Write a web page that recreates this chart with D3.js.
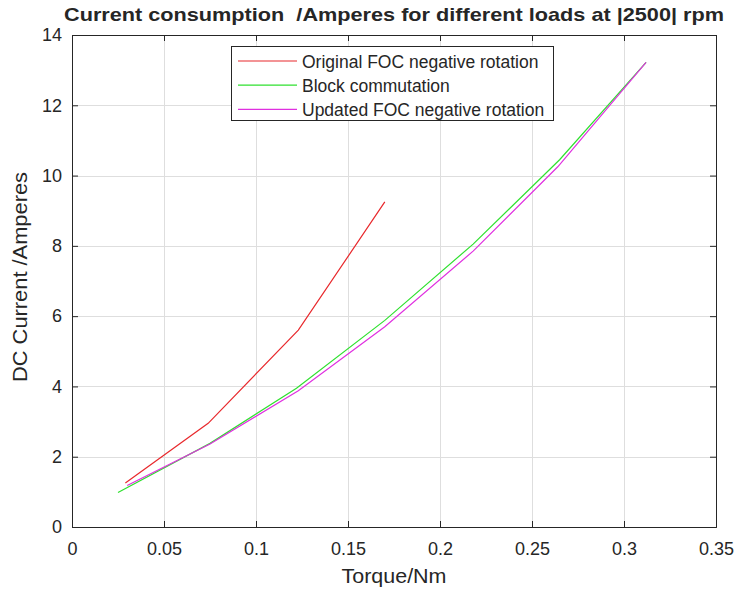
<!DOCTYPE html>
<html>
<head>
<meta charset="utf-8">
<script src="https://cdn.jsdelivr.net/npm/d3@7"></script>
<style>
  html, body { margin: 0; padding: 0; background: #ffffff; }
  svg text { font-family: "Liberation Sans", Arial, Helvetica, sans-serif; fill: #262626; }
</style>
</head>
<body>
<svg id="chart" width="740" height="592"></svg>
<script>
// Measured DC current (A) against load torque (Nm) at |2500| rpm
const originalTorque = [0.029, 0.074, 0.123, 0.170];
const originalCurrent = [1.25, 2.95, 5.60, 9.25];

const blockTorque = [0.025, 0.075, 0.122, 0.170, 0.218, 0.265, 0.312];
const blockCurrent = [0.98, 2.38, 3.95, 5.88, 8.05, 10.45, 13.22];

const updatedTorque = [0.030, 0.075, 0.123, 0.170, 0.218, 0.264, 0.312];
const updatedCurrent = [1.18, 2.36, 3.88, 5.70, 7.85, 10.25, 13.22];

const seriesNames = ["Original FOC negative rotation", "Block commutation", "Updated FOC negative rotation"];
const seriesColors = ["#e8282c", "#2fe02f", "#e030e0"];

const xTicks = [0, 0.05, 0.1, 0.15, 0.2, 0.25, 0.3, 0.35];
const yTicks = [0, 2, 4, 6, 8, 10, 12, 14];

const titleText = "Current consumption  /Amperes for different loads at |2500| rpm";
const xLabel = "Torque/Nm";
const yLabel = "DC Current /Amperes";

const svg = d3.select("#chart");
const plotLeft = 72, plotRight = 716, plotTop = 35, plotBottom = 527;

const x = d3.scaleLinear().domain([0, 0.35]).range([plotLeft, plotRight]);
const y = d3.scaleLinear().domain([0, 14]).range([plotBottom, plotTop]);

// grid
const grid = svg.append("g").attr("stroke", "#dedede").attr("stroke-width", 1);
grid.selectAll("line.vx").data(xTicks.slice(1, -1)).join("line")
  .attr("x1", d => Math.round(x(d)) + 0.5).attr("x2", d => Math.round(x(d)) + 0.5)
  .attr("y1", plotTop).attr("y2", plotBottom);
grid.selectAll("line.hy").data(yTicks.slice(1, -1)).join("line")
  .attr("x1", plotLeft).attr("x2", plotRight)
  .attr("y1", d => Math.round(y(d)) + 0.5).attr("y2", d => Math.round(y(d)) + 0.5);

// axes with inward ticks on all four sides
const fmtX = d => d === 0 ? "0" : String(d);
const axB = svg.append("g").attr("transform", `translate(0,${plotBottom})`)
  .call(d3.axisBottom(x).tickValues(xTicks).tickSize(-6).tickPadding(15).tickFormat(fmtX));
const axT = svg.append("g").attr("transform", `translate(0,${plotTop})`)
  .call(d3.axisTop(x).tickValues(xTicks).tickSize(-6).tickFormat(""));
const axL = svg.append("g").attr("transform", `translate(${plotLeft},0)`)
  .call(d3.axisLeft(y).tickValues(yTicks).tickSize(-6).tickPadding(10));
const axR = svg.append("g").attr("transform", `translate(${plotRight},0)`)
  .call(d3.axisRight(y).tickValues(yTicks).tickSize(-6).tickFormat(""));
[axB, axT, axL, axR].forEach(a => {
  a.attr("font-size", 18).attr("font-family", "'Liberation Sans', Arial, sans-serif");
  a.select(".domain").attr("stroke", "#262626").attr("stroke-width", 1);
  a.selectAll(".tick line").attr("stroke", "#262626");
  a.selectAll(".tick text").attr("fill", "#262626");
});

// series lines
const line = d3.line().x(d => x(d[0])).y(d => y(d[1]));
const series = [
  d3.zip(originalTorque, originalCurrent),
  d3.zip(blockTorque, blockCurrent),
  d3.zip(updatedTorque, updatedCurrent)
];
svg.append("g").selectAll("path").data(series).join("path")
  .attr("d", line)
  .attr("fill", "none")
  .attr("stroke", (d, i) => seriesColors[i])
  .attr("stroke-width", 1.2);

// title and axis labels
svg.append("text").attr("x", (plotLeft + plotRight) / 2).attr("y", 21)
  .attr("text-anchor", "middle").attr("font-size", 19).attr("font-weight", "bold")
  .style("white-space", "pre").attr("fill", "#000")
  .attr("textLength", 660).attr("lengthAdjust", "spacingAndGlyphs")
  .text(titleText);
svg.append("text").attr("x", (plotLeft + plotRight) / 2).attr("y", 583)
  .attr("text-anchor", "middle").attr("font-size", 20)
  .attr("textLength", 105).attr("lengthAdjust", "spacingAndGlyphs").text(xLabel);
svg.append("text").attr("transform", `translate(27,277) rotate(-90)`)
  .attr("text-anchor", "middle").attr("font-size", 20)
  .attr("textLength", 210).attr("lengthAdjust", "spacingAndGlyphs").text(yLabel);

// legend
const lg = svg.append("g");
lg.append("rect").attr("x", 231.5).attr("y", 46.5).attr("width", 322).attr("height", 74)
  .attr("fill", "#fff").attr("stroke", "#262626").attr("stroke-width", 1);
const rows = lg.selectAll("g.row").data(seriesNames).join("g")
  .attr("transform", (d, i) => `translate(0,${61 + i * 24.2})`);
rows.append("line").attr("x1", 238).attr("x2", 297).attr("y1", 0).attr("y2", 0)
  .attr("stroke", (d, i) => seriesColors[i]).attr("stroke-width", 1.2);
rows.append("text").attr("x", 302).attr("y", 6.5).attr("font-size", 17.5).text(d => d);
</script>
</body>
</html>
